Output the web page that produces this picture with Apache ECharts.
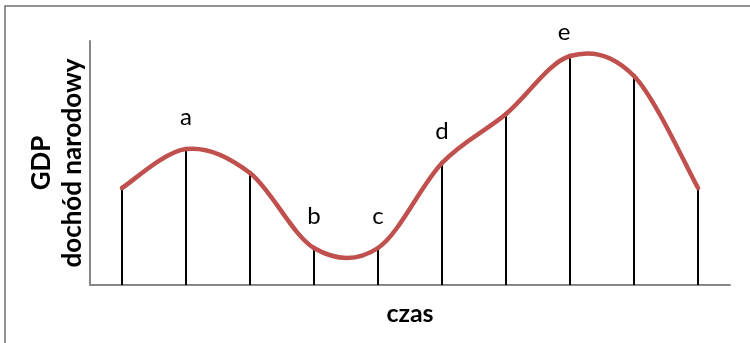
<!DOCTYPE html>
<html>
<head>
<meta charset="utf-8">
<script src="https://cdn.jsdelivr.net/npm/echarts@6/dist/echarts.min.js"></script>
<style>
  html, body { margin: 0; padding: 0; background: #fff; }
  #chart { width: 750px; height: 343px; }
</style>
</head>
<body>
<div id="chart"></div>
<script>
  // dane (skala umowna, 0 = oś czasu)
  var categories = ['1', '2', '3', '4', '5', '6', '7', '8', '9', '10'];
  var gdpValues = [97, 136, 112, 37, 37, 122, 171, 229, 209, 97];
  var pointLabels = ['', 'a', '', 'b', 'c', 'd', '', 'e', '', ''];
  var yMax = 244;

  var chart = echarts.init(document.getElementById('chart'));

  // słupki = pionowe kreski z etykietami a..e
  var barData = gdpValues.map(function (v, i) {
    var item = { value: v };
    if (pointLabels[i] === 'e') {
      item.label = { distance: 12, offset: [-6, 0] };
    }
    return item;
  });

  // krzywa wygładzona jak w Excelu (Catmull-Rom -> Bezier), rysowana odcinkami
  function renderCurve(params, api) {
    var i = params.dataIndex;
    var n = gdpValues.length;
    if (i >= n - 1) return null;
    var pt = function (k) {
      k = Math.max(0, Math.min(n - 1, k));
      return api.coord([k, gdpValues[k]]);
    };
    var p0 = pt(i - 1), p1 = pt(i), p2 = pt(i + 1), p3 = pt(i + 2);
    return {
      type: 'bezierCurve',
      shape: {
        x1: p1[0], y1: p1[1],
        x2: p2[0], y2: p2[1],
        cpx1: p1[0] + (p2[0] - p0[0]) / 6,
        cpy1: p1[1] + (p2[1] - p0[1]) / 6,
        cpx2: p2[0] - (p3[0] - p1[0]) / 6,
        cpy2: p2[1] - (p3[1] - p1[1]) / 6
      },
      style: { stroke: '#C0504D', lineWidth: 4.5, fill: null, lineCap: 'round' }
    };
  }

  chart.setOption({
    animation: false,
    textStyle: { fontFamily: 'Lato' },
    graphic: [
      {
        type: 'polyline',
        shape: { points: [[5, 343], [5, 6], [750, 6]] },
        style: { stroke: '#6f6f6f', lineWidth: 1.5, fill: null },
        silent: true
      }
    ],
    grid: { left: 90, right: 20, top: 41, bottom: 58 },
    xAxis: {
      type: 'category',
      data: categories,
      boundaryGap: true,
      name: 'czas',
      nameLocation: 'middle',
      nameGap: 16,
      nameTextStyle: { fontFamily: 'Lato', fontWeight: 'bold', fontSize: 25, color: '#000' },
      axisLine: { lineStyle: { color: '#878787', width: 2 } },
      axisTick: { show: false },
      axisLabel: { show: false },
      splitLine: { show: false }
    },
    yAxis: {
      type: 'value',
      min: 0,
      max: yMax,
      name: 'GDP\ndochód narodowy',
      nameLocation: 'middle',
      nameGap: 2,
      nameTextStyle: { fontFamily: 'Lato', fontWeight: 'bold', fontSize: 26, lineHeight: 31, color: '#000' },
      axisLine: { show: true, lineStyle: { color: '#878787', width: 2 } },
      axisTick: { show: false },
      axisLabel: { show: false },
      splitLine: { show: false }
    },
    series: [
      {
        type: 'bar',
        data: barData,
        barWidth: 2,
        itemStyle: { color: '#000' },
        label: {
          show: true,
          position: 'top',
          distance: 20,
          fontFamily: 'Lato',
          fontSize: 24,
          color: '#000',
          formatter: function (p) { return pointLabels[p.dataIndex]; }
        },
        z: 2
      },
      {
        type: 'custom',
        data: gdpValues.map(function (v, i) { return [i, v]; }),
        encode: { x: 0, y: 1 },
        renderItem: renderCurve,
        z: 3
      }
    ]
  });
</script>
</body>
</html>
